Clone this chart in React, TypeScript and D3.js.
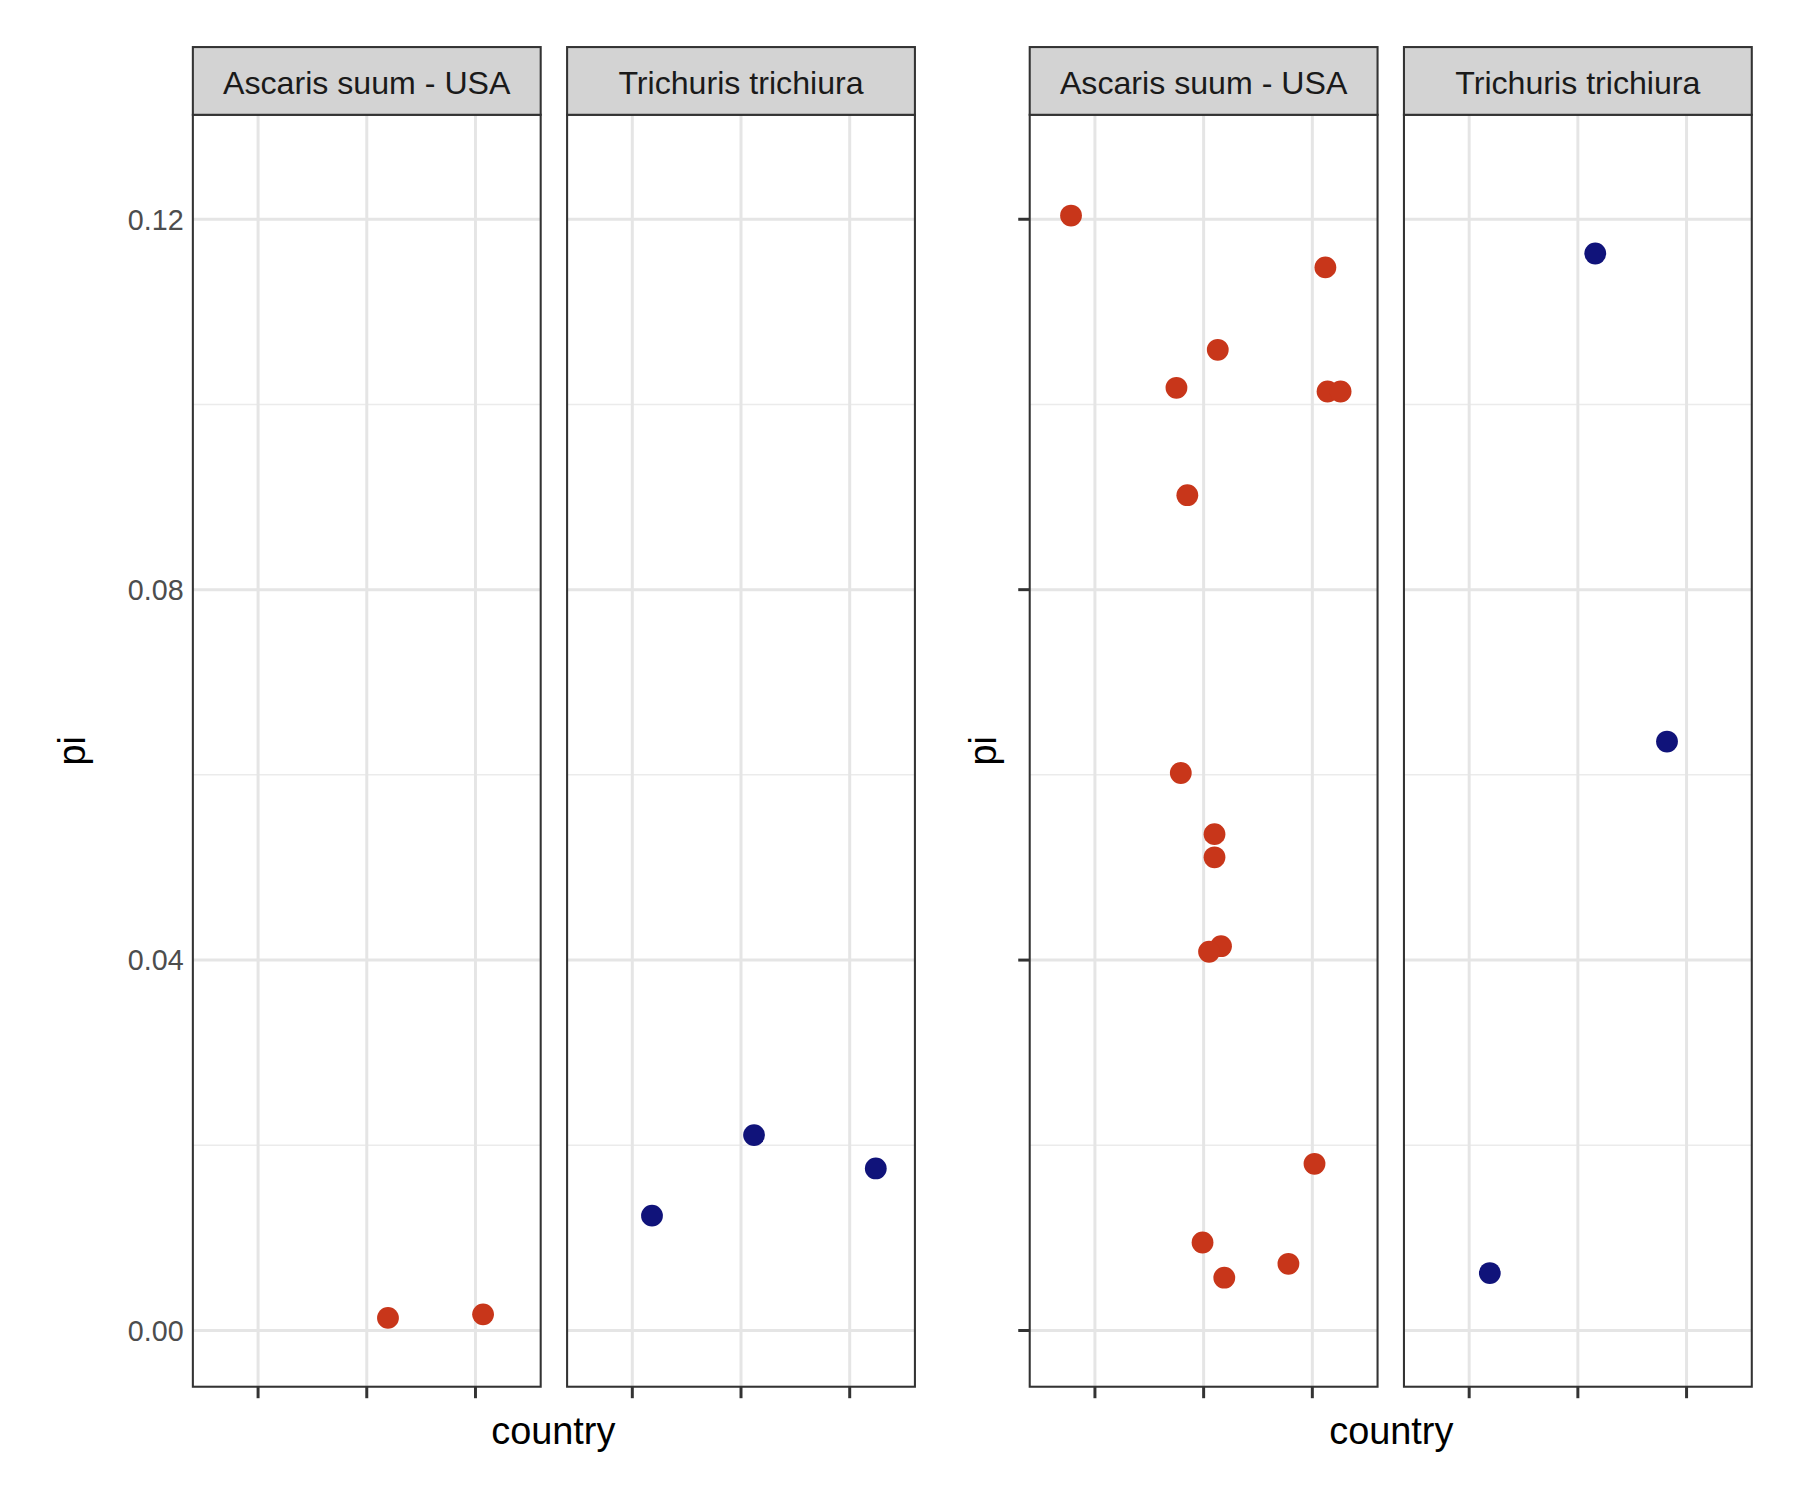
import React from "react";
import * as d3 from "d3";

const panelTitles = ["Ascaris suum - USA", "Trichuris trichiura", "Ascaris suum - USA", "Trichuris trichiura"];
const yTicks = [0, 0.04, 0.08, 0.12];
const yMinor = [0.02, 0.06, 0.1];
const cats = [1, 2, 3];
// x = jittered category position, y = pi
const p1x = [2.195, 3.07];
const p1y = [0.00136, 0.00174];
const p2x = [1.181, 2.12, 3.24];
const p2y = [0.0124, 0.0211, 0.0175];
const p3x = [0.78, 3.12, 2.13, 1.75, 3.14, 3.26, 1.85, 1.79, 2.1, 2.1, 2.16, 2.05, 3.02, 1.99, 2.78, 2.19];
const p3y = [0.1204, 0.1148, 0.1059, 0.1018, 0.1014, 0.1014, 0.0902, 0.0602, 0.0536, 0.0511, 0.0415, 0.0409, 0.018, 0.0095, 0.0072, 0.0057];
const p4x = [2.16, 2.82, 1.19];
const p4y = [0.1163, 0.0636, 0.0062];
const RED = "#C8361A";
const BLUE = "#10137A";
const panels = [
  { x0: 168, xs: p1x, ys: p1y, c: RED },
  { x0: 494, xs: p2x, ys: p2y, c: BLUE },
  { x0: 897, xs: p3x, ys: p3y, c: RED },
  { x0: 1223, xs: p4x, ys: p4y, c: BLUE },
];
const W = 303;
const FONT = "Liberation Sans, Arial, sans-serif";

export default function App() {
  const y = d3.scaleLinear().domain([0, 0.12]).range([1159, 191]);
  return (
    <svg width={1800} height={1500} viewBox="0 0 1568 1306.67" style={{ position: "absolute", left: 0, top: 0 }} fontFamily={FONT}>
      <rect width={1568} height={1307} fill="white" />
      {panels.map((p, i) => {
        const x = d3.scaleLinear().domain([0.4, 3.6]).range([p.x0, p.x0 + W]);
        return (
          <g key={i}>
            {yMinor.map((t) => (
              <line key={t} x1={p.x0} x2={p.x0 + W} y1={y(t)} y2={y(t)} stroke="#ebebeb" strokeWidth={1.3} />
            ))}
            {yTicks.map((t) => (
              <line key={t} x1={p.x0} x2={p.x0 + W} y1={y(t)} y2={y(t)} stroke="#e5e5e5" strokeWidth={2.6} />
            ))}
            {cats.map((c) => (
              <g key={c}>
                <line x1={x(c)} x2={x(c)} y1={100} y2={1208} stroke="#e5e5e5" strokeWidth={2.6} />
                <line x1={x(c)} x2={x(c)} y1={1208} y2={1218} stroke="#333" strokeWidth={2.6} />
              </g>
            ))}
            {p.xs.map((v, j) => (
              <circle key={j} cx={x(v)} cy={y(p.ys[j])} r={9.5} fill={p.c} />
            ))}
            <rect x={p.x0} y={100} width={W} height={1108} fill="none" stroke="#333" strokeWidth={1.8} />
            <rect x={p.x0} y={41} width={W} height={59} fill="#d3d3d3" stroke="#333" strokeWidth={1.8} />
            <text x={p.x0 + W / 2} y={82} textAnchor="middle" fontSize={28} fill="#1a1a1a">{panelTitles[i]}</text>
          </g>
        );
      })}
      {yTicks.map((t) => (
        <g key={t}>
          <text x={160} y={y(t) + 9} textAnchor="end" fontSize={25} fill="#4d4d4d">{t.toFixed(2)}</text>
          <line x1={887} x2={897} y1={y(t)} y2={y(t)} stroke="#333" strokeWidth={2.6} />
        </g>
      ))}
      <text transform="translate(74,654) rotate(-90)" textAnchor="middle" fontSize={33}>pi</text>
      <text transform="translate(868,654) rotate(-90)" textAnchor="middle" fontSize={33}>pi</text>
      <text x={482} y={1258} textAnchor="middle" fontSize={33}>country</text>
      <text x={1212} y={1258} textAnchor="middle" fontSize={33}>country</text>
    </svg>
  );
}
